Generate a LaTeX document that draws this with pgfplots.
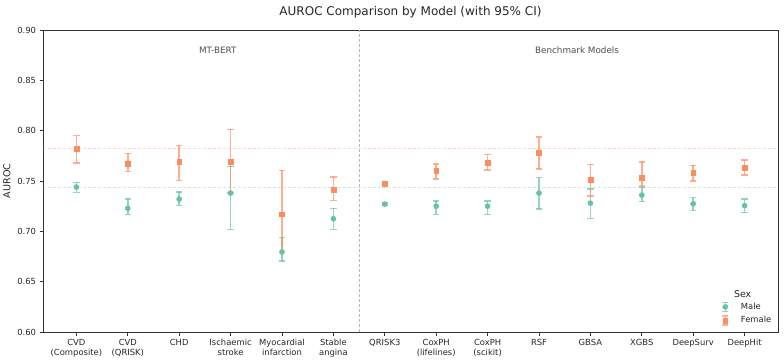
\documentclass[border=0pt]{standalone}
\usepackage{fontspec}
\setmainfont{DejaVu Sans}
\usepackage{pgfplots}
\usepackage{pgfplotstable}
\pgfplotsset{compat=1.18}

\definecolor{male}{HTML}{66C2A5}
\definecolor{female}{HTML}{FC8D62}
\definecolor{txt}{HTML}{262626}
\definecolor{grp}{HTML}{4D4D4D}

% AUROC with 95% CI (mean, upper, lower), categories at 0..13
\pgfplotstableread{
x m hi lo
0  0.7440 0.7487 0.7388
1  0.7229 0.7320 0.7170
2  0.7320 0.7390 0.7260
3  0.7380 0.7645 0.7020
4  0.6795 0.6940 0.6705
5  0.7125 0.7229 0.7020
6  0.7270 0.7280 0.7260
7  0.7250 0.7300 0.7170
8  0.7250 0.7300 0.7170
9  0.7380 0.7533 0.7222
10 0.7280 0.7420 0.7130
11 0.7360 0.7437 0.7298
12 0.7274 0.7334 0.7209
13 0.7255 0.7320 0.7190
}\maledata

\pgfplotstableread{
x m hi lo
0  0.7820 0.7950 0.7680
1  0.7675 0.7774 0.7595
2  0.7690 0.7850 0.7506
3  0.7688 0.8013 0.7380
4  0.7170 0.7605 0.6800
5  0.7410 0.7540 0.7308
6  0.7473 0.7480 0.7466
7  0.7600 0.7670 0.7520
8  0.7680 0.7764 0.7610
9  0.7780 0.7936 0.7620
10 0.7512 0.7665 0.7350
11 0.7532 0.7690 0.7450
12 0.7582 0.7655 0.7500
13 0.7630 0.7710 0.7560
}\femaledata

\begin{document}
\begin{tikzpicture}
\useasboundingbox (-43pt,-29pt) rectangle (741pt,332pt);
\begin{axis}[
  scale only axis, width=735pt, height=302pt,
  xmin=-0.65, xmax=13.65, ymin=0.6, ymax=0.9,
  axis line style={black!80, line width=0.8pt},
  xtick={0,...,13},
  xticklabels={{CVD\\(Composite)},{CVD\\(QRISK)},CHD,{Ischaemic\\stroke},{Myocardial\\infarction},{Stable\\angina},QRISK3,{CoxPH\\(lifelines)},{CoxPH\\(scikit)},RSF,GBSA,XGBS,DeepSurv,DeepHit},
  ytick={0.60,0.65,0.70,0.75,0.80,0.85,0.90},
  yticklabel style={/pgf/number format/.cd, fixed, fixed zerofill, precision=2, assume math mode=true},
  tick align=outside, tick pos=left,
  major tick length=3.5pt,
  tick style={black!80, line width=0.8pt},
  ticklabel style={font=\fontsize{8.4}{9.8}\selectfont, text=txt},
  xticklabel style={align=center},
  ylabel={AUROC},
  ylabel style={font=\fontsize{9.6}{11}\selectfont, text=txt},
  title={AUROC Comparison by Model (with 95\% CI)},
  title style={font=\fontsize{12}{14}\selectfont, text=txt, at={(0.5,1)}, anchor=base, yshift=8pt},
  clip=false,
  legend style={draw=none, fill=none, at={(0.915,0.015)}, anchor=south west,
    font=\fontsize{8.4}{9.8}\selectfont, text=txt, row sep=1.5pt, inner sep=1pt},
  legend cell align=left,
]
% reference levels from the composite CVD estimates
\addplot[forget plot, female, opacity=0.35, dash pattern=on 3pt off 2pt, line width=0.7pt] coordinates {(-0.65,0.782) (13.65,0.782)};
\addplot[forget plot, male, opacity=0.35, dash pattern=on 3pt off 2pt, line width=0.7pt] coordinates {(-0.65,0.744) (13.65,0.744)};
% divider between model groups
\addplot[forget plot, black!28, dash pattern=on 3pt off 2pt, line width=0.6pt] coordinates {(5.5,0.6) (5.5,0.9)};

\addplot[forget plot, only marks, mark=*, mark size=2.6pt, color=male,
  mark options={fill=male, draw=male},
  error bars/.cd, y dir=both, y explicit,
  error bar style={male, opacity=0.7, line width=1.5pt},
  error mark options={male, opacity=0.7, mark size=3.2pt, line width=1.3pt, rotate=90}]
  table[x=x, y=m, y error plus expr=\thisrow{hi}-\thisrow{m}, y error minus expr=\thisrow{m}-\thisrow{lo}] {\maledata};

\addplot[forget plot, only marks, mark=square*, mark size=2.4pt, color=female,
  mark options={fill=female, draw=female},
  error bars/.cd, y dir=both, y explicit,
  error bar style={female, opacity=0.7, line width=1.5pt},
  error mark options={female, opacity=0.7, mark size=3.2pt, line width=1.3pt, rotate=90}]
  table[x=x, y=m, y error plus expr=\thisrow{hi}-\thisrow{m}, y error minus expr=\thisrow{m}-\thisrow{lo}] {\femaledata};

\addlegendimage{legend image code/.code={
  \path[draw=none, fill=none] (0pt,0pt) -- (0.78cm,0pt);
  \draw[male, opacity=0.7, line width=1.4pt] (0.3cm,-4.5pt) -- (0.3cm,4.5pt)
     (0.3cm-2.8pt,-4.5pt) -- (0.3cm+2.8pt,-4.5pt) (0.3cm-2.8pt,4.5pt) -- (0.3cm+2.8pt,4.5pt);
  \fill[male] (0.3cm,0pt) circle (2.6pt);}}
\addlegendentry{Male}
\addlegendimage{legend image code/.code={
  \path[draw=none, fill=none] (0pt,0pt) -- (0.78cm,0pt);
  \draw[female, opacity=0.7, line width=1.4pt] (0.3cm,-4.5pt) -- (0.3cm,4.5pt)
     (0.3cm-2.8pt,-4.5pt) -- (0.3cm+2.8pt,-4.5pt) (0.3cm-2.8pt,4.5pt) -- (0.3cm+2.8pt,4.5pt);
  \fill[female] (0.3cm-2.4pt,-2.4pt) rectangle (0.3cm+2.4pt,2.4pt);}}
\addlegendentry{Female}

\node[font=\fontsize{8.8}{10}\selectfont, text=grp] at (axis cs:2.75,0.880) {MT-BERT};
\node[font=\fontsize{8.8}{10}\selectfont, text=grp] at (axis cs:9.74,0.880) {Benchmark Models};
\node[font=\fontsize{9.4}{11}\selectfont, text=txt] at (rel axis cs:0.952,0.127) {Sex};
\end{axis}
\end{tikzpicture}
\end{document}
